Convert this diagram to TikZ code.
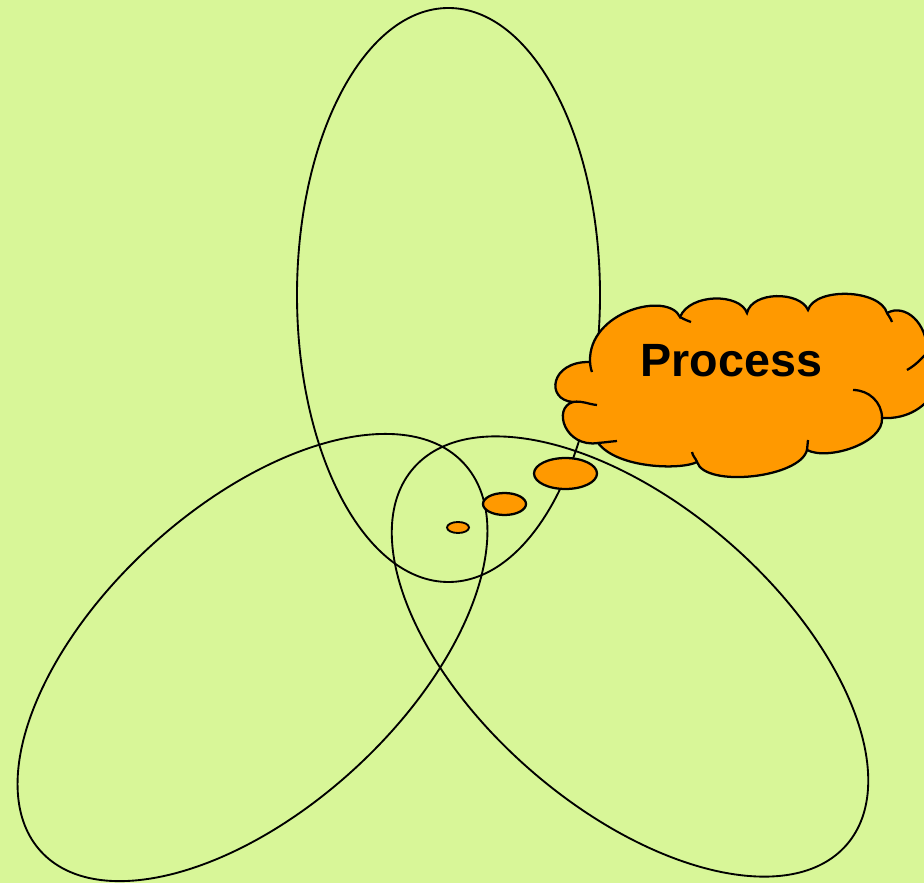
\documentclass[tikz,border=0pt]{standalone}
\usepackage{fontspec}
\setmainfont{Liberation Sans}
\definecolor{bggreen}{RGB}{216,246,152}
\definecolor{cloudorange}{RGB}{255,153,0}
\tikzset{
  petal/.style={draw=black,line width=1.4pt},
  puff/.style={draw=black,line width=1.7pt,fill=cloudorange},
  innermark/.style={draw=black,line width=1.7pt},
  label/.style={font=\bfseries\fontsize{35}{40}\selectfont,inner sep=0pt}
}
\begin{document}
\begin{tikzpicture}[x=0.75pt,y=0.75pt]
\useasboundingbox (0,0) rectangle (924,883);
\clip (0,0) rectangle (924,883);
\fill[bggreen] (0,0) rectangle (924,883);
% centres of the three ellipses
\coordinate (ctop) at (448.5,588);
\coordinate (cleft) at (252.5,225.5);
\coordinate (cright) at (630,226.5);
\draw[petal] (ctop) ellipse [x radius=151.5, y radius=287];
\draw[petal, rotate around={42.5:(cleft)}] (cleft) ellipse [x radius=287, y radius=151];
\draw[petal, rotate around={-41:(cright)}] (cright) ellipse [x radius=287, y radius=151];
% cloud joints
\coordinate (J1) at (590,521);
\coordinate (J2) at (680,566);
\coordinate (J3) at (747,570);
\coordinate (J4) at (808,573);
\coordinate (J5) at (887,570);
\coordinate (J6) at (927,530);
\coordinate (J7) at (882,465);
\coordinate (J8) at (807,433);
\coordinate (J9) at (697,421);
\coordinate (J10) at (598,440);
\coordinate (J11) at (573,481);
\path[puff] (J1)
  .. controls (588,572) and (668,592) .. (J2)
  .. controls (690,590) and (740,590) .. (J3)
  .. controls (752,592) and (800,592) .. (J4)
  .. controls (815,596) and (880,594) .. (J5)
  .. controls (905,580) and (928,560) .. (J6)
  .. controls (955,520) and (935,462) .. (J7)
  .. controls (884,440) and (828,422) .. (J8)
  .. controls (800,405) and (705,395) .. (J9)
  .. controls (682,413) and (618,414) .. (J10)
  .. controls (565,435) and (552,475) .. (J11)
  .. controls (545,483) and (550,522) .. (J1) -- cycle;
% inner strokes of the cloud
\coordinate (M1) at (592,511);
\coordinate (M2) at (691,561);
\coordinate (M5) at (892,561);
\coordinate (M6) at (907,513);
\coordinate (M7) at (853,493);
\coordinate (M8) at (808,443);
\coordinate (M9) at (692,431);
\coordinate (M10) at (617,442);
\coordinate (M11) at (597,478);
\draw[innermark] (J1) to[out=-85,in=110] (M1);
\draw[innermark] (J2) to[out=-30,in=160] (M2);
\draw[innermark] (J5) to[out=-60,in=110] (M5);
\draw[innermark] (M6) to[out=30,in=225] (J6);
\draw[innermark] (M7) to[out=0,in=90] (J7);
\draw[innermark] (J8) to[out=85,in=-95] (M8);
\draw[innermark] (M9) to[out=-80,in=110] (J9);
\draw[innermark] (J10) to[out=5,in=185] (M10);
\draw[innermark] (J11) to[out=10,in=175] (M11);
\node[label, anchor=base] (proc) at (731.5,506) {Process};
% thought bubbles
\coordinate (b1) at (565.5,409.5);
\coordinate (b2) at (504.5,379);
\coordinate (b3) at (458,355.5);
\draw[puff] (b1) ellipse [x radius=31.5, y radius=15.5];
\draw[puff] (b2) ellipse [x radius=21.5, y radius=11];
\draw[puff, line width=1.4pt] (b3) ellipse [x radius=11, y radius=5.5];
\end{tikzpicture}
\end{document}
